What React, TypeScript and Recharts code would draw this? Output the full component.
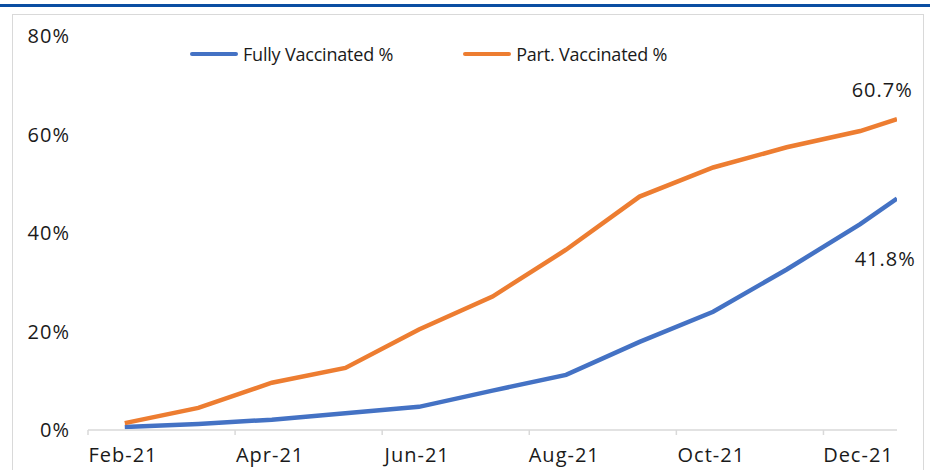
import { LineChart, Line, XAxis, YAxis, Legend } from "recharts";

// monthly share of population vaccinated, last point is the mid-December reading
const months = ["Feb-21", "Mar-21", "Apr-21", "May-21", "Jun-21", "Jul-21", "Aug-21", "Sep-21", "Oct-21", "Nov-21", "Dec-21", "Dec-21b"];
const monthIndex = [0, 1, 2, 3, 4, 5, 6, 7, 8, 9, 10, 10.5];
const fullyVaccinated = [0.6, 1.2, 2.1, 3.4, 4.7, 8.0, 11.2, 17.9, 24.0, 32.6, 41.8, 47.0];
const partVaccinated = [1.4, 4.5, 9.6, 12.6, 20.4, 27.1, 36.6, 47.4, 53.3, 57.4, 60.7, 63.1];

const xTicks = [-0.5, 1.5, 3.5, 5.5, 7.5, 9.5];
const xTickLabels = ["Feb-21", "Apr-21", "Jun-21", "Aug-21", "Oct-21", "Dec-21"];
const yTicks = [0, 20, 40, 60, 80];
const labelledMonth = "Dec-21";

const BLUE = "#4472C4";
const ORANGE = "#ED7D31";
const FONT = "'Open Sans', sans-serif";
const TEXT = "#1a1a1a";

const data = months.map((m, i) => ({
  month: m,
  x: monthIndex[i],
  fully: fullyVaccinated[i],
  part: partVaccinated[i],
}));

const labelIdx = months.indexOf(labelledMonth);

function makeLabel(dx: number, dy: number) {
  return (props: any) => {
    const { x, y, value, index } = props;
    if (index !== labelIdx) return <g key={`l-${index}`} />;
    return (
      <text
        key={`l-${index}`}
        x={x + dx}
        y={y + dy}
        textAnchor="middle"
        dominantBaseline="central"
        fontSize={20}
        letterSpacing={1}
        fontFamily={FONT}
        fill={TEXT}
      >
        {Number(value).toFixed(1)}%
      </text>
    );
  };
}

function LegendContent(props: any) {
  const items = props.payload || [];
  return (
    <div style={{ display: "flex", alignItems: "center", fontFamily: FONT, fontSize: 18, color: TEXT }}>
      {items.map((it: any, i: number) => (
        <div key={it.value} style={{ display: "flex", alignItems: "center", marginRight: i === 0 ? 70 : 0 }}>
          <span
            style={{
              display: "inline-block",
              width: 48,
              height: 4,
              borderRadius: 2,
              background: it.color,
              marginRight: 5,
            }}
          />
          <span style={{ letterSpacing: -0.2 }}>{it.value}</span>
        </div>
      ))}
    </div>
  );
}

export default function App() {
  return (
    <div style={{ position: "absolute", left: 0, top: 0, width: 930, height: 470, overflow: "hidden", background: "#fff" }}>
      <div style={{ position: "absolute", left: 0, top: 4, width: 930, height: 3, background: "#0b4ea2" }} />
      <div
        style={{
          position: "absolute",
          left: 12,
          top: 14,
          width: 912,
          height: 470,
          border: "1.5px solid #d9d9d9",
          boxSizing: "border-box",
        }}
      />
      <div style={{ position: "absolute", left: 0, top: 0 }}>
        <LineChart width={930} height={470} data={data} margin={{ top: 36, right: 33, bottom: 0, left: 0 }}>
          <XAxis
            dataKey="x"
            type="number"
            domain={[-0.5, 10.5]}
            ticks={xTicks}
            tickFormatter={(v: number) => xTickLabels[xTicks.indexOf(v)] ?? ""}
            tick={{ fontSize: 20, letterSpacing: 1, fontFamily: FONT, fill: TEXT, dx: 35 }}
            axisLine={{ stroke: "#d9d9d9", strokeWidth: 1.5 }}
            tickLine={{ stroke: "#d9d9d9", strokeWidth: 1.5 }}
            tickSize={5}
            tickMargin={13}
            height={40}
            allowDataOverflow
          />
          <YAxis
            domain={[0, 80]}
            ticks={yTicks}
            tickFormatter={(v: number) => `${v}%`}
            tick={{ fontSize: 20, letterSpacing: 1, fontFamily: FONT, fill: TEXT }}
            axisLine={false}
            tickLine={false}
            tickSize={0}
            tickMargin={18}
            width={88}
          />
          <Legend
            layout="horizontal"
            verticalAlign="middle"
            align="center"
            wrapperStyle={{ top: 42, left: 190, width: "auto" }}
            content={<LegendContent />}
          />
          <Line
            type="linear"
            dataKey="fully"
            name="Fully Vaccinated %"
            stroke={BLUE}
            strokeWidth={4.5}
            dot={false}
            activeDot={false}
            isAnimationActive={false}
            label={makeLabel(25, 34)}
          />
          <Line
            type="linear"
            dataKey="part"
            name="Part. Vaccinated %"
            stroke={ORANGE}
            strokeWidth={4.5}
            dot={false}
            activeDot={false}
            isAnimationActive={false}
            label={makeLabel(22, -42)}
          />
        </LineChart>
      </div>
    </div>
  );
}
